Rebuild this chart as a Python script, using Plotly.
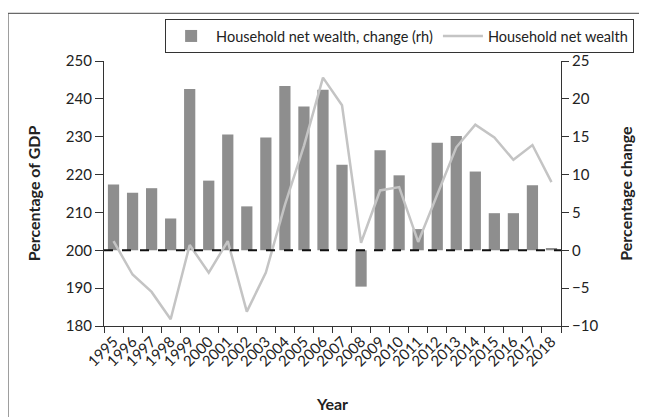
import plotly.graph_objects as go

years = [str(y) for y in range(1995, 2019)]
wealth_change = [8.7, 7.6, 8.2, 4.2, 21.3, 9.2, 15.3, 5.8, 14.9, 21.7, 19.0, 21.2,
                 11.3, -4.8, 13.2, 9.9, 2.8, 14.2, 15.1, 10.4, 4.9, 4.9, 8.6, 0.3]
wealth_gdp = [202.4, 193.6, 189.0, 181.8, 201.4, 194.1, 202.4, 183.8, 194.1, 212.0, 227.6, 245.6,
              238.3, 202.0, 215.8, 216.7, 202.2, 214.5, 227.2, 233.2, 229.8, 223.9, 227.8, 218.0]

FONT = "Lato"
AX = "#333333"

fig = go.Figure()
fig.add_trace(go.Bar(x=years, y=wealth_change, name="Household net wealth, change (rh)",
                     marker=dict(color="#8e8e8e", line=dict(width=0)), yaxis="y"))
fig.add_trace(go.Scatter(x=years, y=wealth_gdp, name="Household net wealth", mode="lines",
                         line=dict(color="#c4c4c4", width=2.5), yaxis="y2"))

fig.update_layout(
    width=647, height=417,
    margin=dict(l=96, r=94, t=52, b=99),
    paper_bgcolor="white", plot_bgcolor="white",
    font=dict(family=FONT, size=15, color="#222222"),
    bargap=0.41,
    showlegend=True,
    legend=dict(orientation="h", x=1.16, y=1.154, xanchor="right", yanchor="top",
                bordercolor=AX, borderwidth=1, font=dict(size=14.5, family=FONT),
                traceorder="normal", itemwidth=40),
    xaxis=dict(type="category", tickangle=-45, showline=True, linecolor=AX, linewidth=1.2,
               ticks="outside", tickson="boundaries", ticklen=6, tickcolor=AX,
               showgrid=False, tickfont=dict(size=15),
               title=dict(text="<b>Year</b>", font=dict(size=16), standoff=30)),
    yaxis=dict(side="right", range=[-10, 25], dtick=5, showline=True, linecolor=AX,
               linewidth=1.2, ticks="outside", ticklen=7, tickcolor=AX, showgrid=False,
               zeroline=False,
               title=dict(text="<b>Percentage change</b>", font=dict(size=16), standoff=23)),
    yaxis2=dict(side="left", overlaying="y", range=[180, 250], dtick=10, showline=True,
                linecolor=AX, linewidth=1.2, ticks="outside", ticklen=8, tickcolor=AX,
                showgrid=False, zeroline=False,
                title=dict(text="<b>Percentage of GDP</b>", font=dict(size=16), standoff=21)),
    shapes=[
        dict(type="line", xref="paper", yref="y", x0=0, x1=1, y0=0, y1=0,
             line=dict(color="#111111", width=2, dash="dash"), layer="above"),
        dict(type="rect", xref="paper", yref="paper", x0=-0.210, x1=1.3, y0=-0.5, y1=1.180,
             line=dict(color="#444444", width=1), layer="below"),
    ],
)

fig.write_html("out.html")
